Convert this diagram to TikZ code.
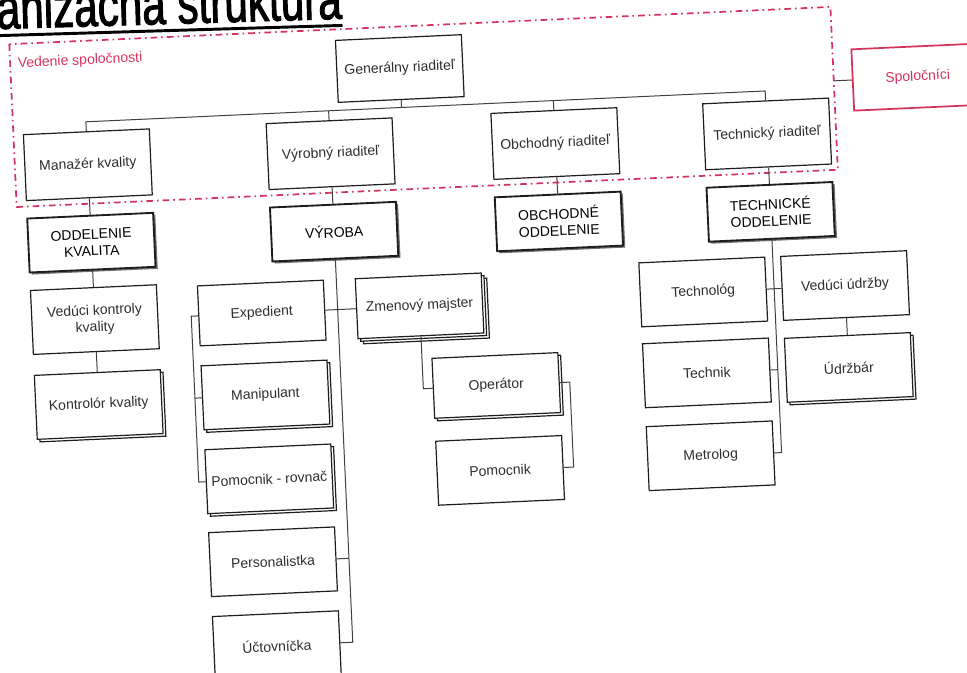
\documentclass[tikz,border=0pt]{standalone}
\usepackage{fontspec}
\setmainfont{Liberation Sans}
\newfontfamily\titlefont[FakeStretch=0.72,FakeBold=1.6]{Liberation Sans}
\usetikzlibrary{shadows}

\begin{document}
\begin{tikzpicture}[x=0.75pt,y=-0.75pt,
  mybox/.style={draw=boxline,line width=0.9pt,fill=white,text=boxtext,align=center,
    minimum width=94.5pt,minimum height=48pt,inner sep=2pt,font=\fontsize{10.5}{12.5}\selectfont},
  mystack/.style={mybox,copy shadow={shadow xshift=2pt,shadow yshift=-2pt,draw=boxline,fill=white}},
  mystack2/.style={mybox,copy shadow={shadow xshift=4pt,shadow yshift=-4pt,draw=boxline,fill=white},
    copy shadow={shadow xshift=2pt,shadow yshift=-2pt,draw=boxline,fill=white}},
  mydept/.style={mybox,line width=1.4pt,minimum height=40.5pt,text=black,
    drop shadow={shadow xshift=1.6pt,shadow yshift=-1.6pt,fill=black!70,opacity=.8}},
  mylink/.style={draw=linkgray,line width=0.75pt},
  myframe/.style={draw=vedred,line width=1.3pt,dash pattern=on 5pt off 3pt on 1.2pt off 3pt}]
\definecolor{boxline}{HTML}{1E1E1E}
\definecolor{boxtext}{HTML}{2E2E2E}
\definecolor{linkgray}{HTML}{404040}
\definecolor{vedred}{HTML}{D6335C}
\useasboundingbox (0,0) rectangle (967,672);

% nadpis
\node [anchor=base west,inner sep=0,rotate=1.7,font=\titlefont\fontsize{44}{44}\selectfont] (title) at (-3,29) {anizačná štruktúra};
\draw [line width=2.2pt] ([yshift=-5pt]title.base west) -- ([yshift=-5pt]title.base east);

\begin{scope}[transform canvas={rotate around={2.6:(483,336)}}]
% vedenie spolocnosti
\coordinate (fnw) at (23,23);
\coordinate (fse) at (845,186);
\draw [myframe] (fnw) rectangle (fse);
\node [anchor=west,text=vedred,font=\fontsize{10.5}{12}\selectfont] (vedenie) at (26,43) {Vedenie spoločnosti};
\node [mybox,draw=vedred,text=vedred,line width=1.3pt,minimum width=97.5pt,minimum height=46pt] (spol) at (929,97) {Spoločníci};
\draw [mylink] (fse |- spol.west) -- (spol.west);

\node [mybox,minimum height=46.5pt] (gen) at (412,65) {Generálny riaditeľ};
  \foreach \nm/\txt/\xx in {man/Manažér kvality/96,vyr/Výrobný riaditeľ/339,obch/Obchodný riaditeľ/564,tech/Technický riaditeľ/776}
  {  \node [mybox,minimum height=49.5pt] (\nm) at (\xx,147) {\txt};}
\coordinate (bus) at (412,104);
\draw [mylink] (gen.south) -- (bus);
\draw [mylink] (man.north) |- (bus) -| (tech.north);
\draw [mylink] (vyr.north) -- (vyr.north |- bus);
\draw [mylink] (obch.north) -- (obch.north |- bus);

% oddelenia
\node [mydept] (oddk) at (96,225) {ODDELENIE\\KVALITA};
\node [mydept] (vyroba) at (339,225) {VÝROBA};
\node [mydept] (oddo) at (564,225) {OBCHODNÉ\\ODDELENIE};
\node [mydept] (oddt) at (776,225) {TECHNICKÉ\\ODDELENIE};
  \foreach \up/\dn in {man/oddk,vyr/vyroba,obch/oddo,tech/oddt}
  {  \draw [mylink] (\up.south) -- (\dn.north);}

% kvalita
\node [mybox] (vkk) at (96,302) {Vedúci kontroly\\kvality};
\node [mystack] (kontr) at (96,387) {Kontrolór kvality};
\draw [mylink] (oddk.south) -- (vkk.north);
\draw [mylink] (vkk.south) -- (kontr.north);

% vyroba
\node [mybox,minimum height=45pt] (exp) at (263,303) {Expedient};
\node [mystack] (manip) at (263,385) {Manipulant};
\node [mystack] (pomr) at (263,469) {Pomocnik - rovnač};
\node [mybox] (pers) at (263,552) {Personalistka};
\node [mybox] (uct) at (263,636) {Účtovníčka};
\node [mystack2,minimum height=45pt] (zmen) at (421,303) {Zmenový majster};
\node [mystack,minimum height=45pt] (oper) at (494,386) {Operátor};
\node [mybox] (pomoc) at (494,471) {Pomocnik};
\draw [mylink] (vyroba.south) |- (uct.east);
\draw [mylink] (pers.east) -- (pers.east -| vyroba.south);
\draw [mylink] (exp.east) -- (zmen.west);
\draw [mylink] (exp.west) -- ++(-7,0) |- (pomr.west);
\draw [mylink] (manip.west) -- ++(-7,0);
\draw [mylink] (zmen.south) |- (oper.west);
\draw [mylink] (oper.east) -- ++(10,0) |- (pomoc.east);

% technicke
\node [mybox] (technol) at (705,302) {Technológ};
\node [mybox] (technik) at (705,383) {Technik};
\node [mybox] (metr) at (705,466) {Metrolog};
\node [mybox] (vudr) at (847,302) {Vedúci údržby};
\node [mystack] (udrz) at (847,384) {Údržbár};
\draw [mylink] (oddt.south) |- (metr.east);
\draw [mylink] (technol.east) -- (vudr.west);
\draw [mylink] (technik.east) -- (technik.east -| oddt.south);
\draw [mylink] (vudr.south) -- (udrz.north);
\end{scope}
\end{tikzpicture}
\end{document}
